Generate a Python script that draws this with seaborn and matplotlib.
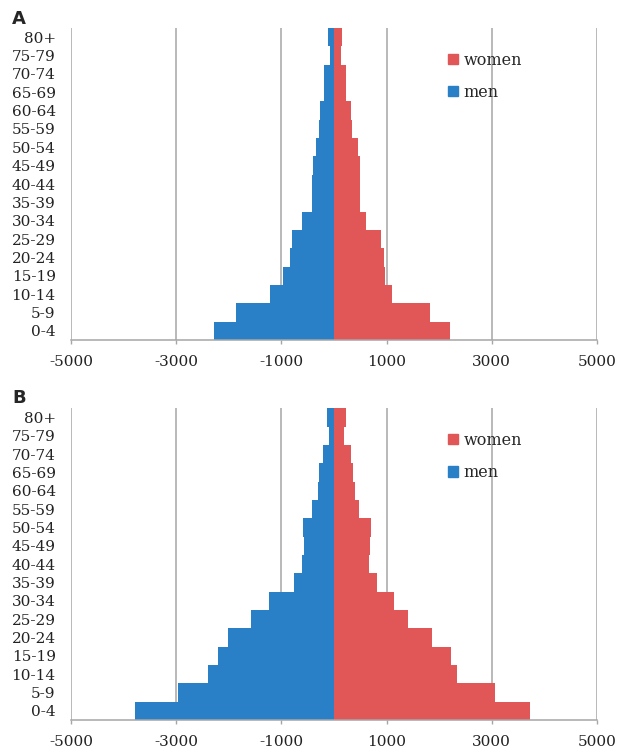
import pandas as pd
import matplotlib.pyplot as plt
import seaborn as sns
from matplotlib.patches import Patch

# age groups, top of the pyramid first
ages = ['80+', '75-79', '70-74', '65-69', '60-64', '55-59', '50-54', '45-49',
        '40-44', '35-39', '30-34', '25-29', '20-24', '15-19', '10-14', '5-9', '0-4']

# panel A
men_a = [115, 76, 183, 183, 265, 285, 350, 390, 410, 420, 615, 797, 845, 970, 1215, 1870, 2280]
women_a = [145, 126, 227, 227, 320, 350, 462, 494, 492, 492, 605, 888, 950, 975, 1111, 1833, 2198]

# panel B
men_b = [125, 100, 210, 280, 305, 415, 590, 575, 600, 765, 1245, 1572, 2007, 2208, 2398, 2970, 3780]
women_b = [222, 188, 314, 364, 400, 472, 698, 682, 660, 821, 1145, 1412, 1869, 2225, 2334, 3063, 3717]

xticks = [-5000, -3000, -1000, 1000, 3000, 5000]

col_women = '#E15656'
col_men = '#2A80C6'

sns.set_style('white')
plt.rcParams['font.family'] = ['DejaVu Serif']


def make_frame(men, women):
    df_m = pd.DataFrame({'age': ages, 'pop': [-v for v in men], 'sex': 'men'})
    df_w = pd.DataFrame({'age': ages, 'pop': women, 'sex': 'women'})
    return pd.concat([df_w, df_m], ignore_index=True)


def plot_pyramid(ax, men, women):
    data = make_frame(men, women)
    sns.barplot(data=data, x='pop', y='age', hue='sex', order=ages,
                hue_order=['women', 'men'], palette=[col_women, col_men],
                dodge=False, width=1.0, orient='h', ax=ax, legend=False,
                linewidth=0, saturation=1)
    ax.set_xlim(-5000, 5000)
    ax.set_ylim(len(ages) - 0.5, -0.5)
    ax.set_xticks(xticks)
    ax.set_xticklabels([str(t) for t in xticks], fontsize=11, color='#222222')
    ax.set_yticks(range(len(ages)))
    ax.set_yticklabels(ages, fontsize=11, color='#222222')
    ax.set_xlabel('')
    ax.set_ylabel('')
    for t in xticks:
        ax.axvline(t, color='#a6a6a6', lw=1.1, zorder=0)
    for s in ['top', 'right', 'left']:
        ax.spines[s].set_visible(False)
    ax.spines['bottom'].set_color('#a6a6a6')
    ax.spines['bottom'].set_linewidth(1.1)
    ax.tick_params(axis='x', length=3, width=1, color='#a6a6a6', pad=8, bottom=True)
    ax.tick_params(axis='y', length=0, pad=11)
    handles = [Patch(color=col_women), Patch(color=col_men)]
    ax.legend(handles, ['women', 'men'], loc='upper left', bbox_to_anchor=(0.69, 0.97),
              frameon=False, fontsize=11.5, handlelength=0.6, handleheight=0.6,
              handletextpad=0.35, labelspacing=0.95)


fig = plt.figure(figsize=(6.19, 7.49), dpi=100)
ax_a = fig.add_axes([71 / 619, 1 - 340 / 749, 526 / 619, 312 / 749])
ax_b = fig.add_axes([71 / 619, 1 - 720 / 749, 526 / 619, 311.7 / 749])

plot_pyramid(ax_a, men_a, women_a)
plot_pyramid(ax_b, men_b, women_b)

fig.text(12 / 619, 1 - 19 / 749, 'A', fontsize=13, fontweight='bold',
         family='DejaVu Sans', va='center', ha='left')
fig.text(12 / 619, 1 - 398 / 749, 'B', fontsize=13, fontweight='bold',
         family='DejaVu Sans', va='center', ha='left')

fig.savefig('out.png', dpi=100)
